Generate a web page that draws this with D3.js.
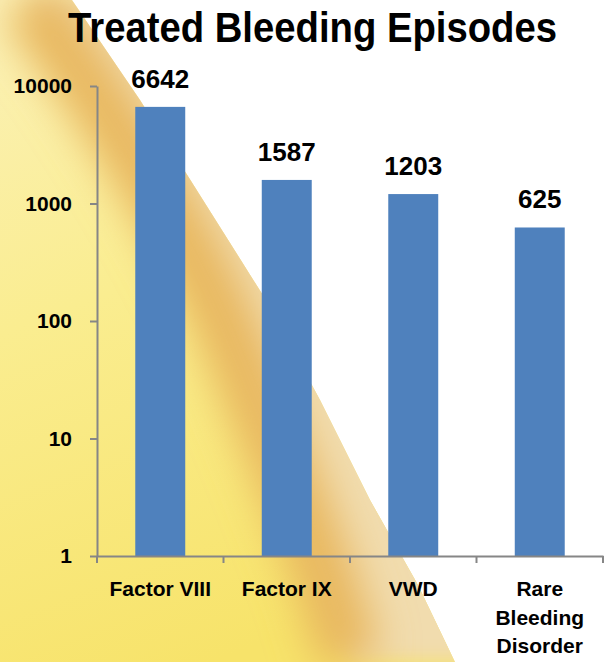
<!DOCTYPE html>
<html>
<head>
<meta charset="utf-8">
<script src="https://cdn.jsdelivr.net/npm/d3@7"></script>
<style>
  body { margin: 0; background: #fff; }
  svg { display: block; }
  text { font-family: "Liberation Sans", Arial, sans-serif; font-weight: bold; fill: #000; }
</style>
</head>
<body>
<div id="chart"></div>
<script>
// chart data
const title = "Treated Bleeding Episodes";
const categories = ["Factor VIII", "Factor IX", "VWD", "Rare Bleeding Disorder"];
const values = [6642, 1587, 1203, 625];
const yTicks = [1, 10, 100, 1000, 10000];

// decorative background sweep (slide template), not data
const sweepEdge = [[72, 0], [140, 100], [203, 200], [266, 300], [320, 400], [370, 500], [418, 585], [455, 662]];
const sweepGold = [[28, 0], [98, 100], [160, 200], [214, 300], [256, 400], [296, 500], [332, 600], [350, 662]];

function main() {
    const W = 609, H = 662;
    const margin = { top: 86, right: 6, bottom: 106, left: 97 };

    const svg = d3.select("#chart").append("svg")
        .attr("width", W).attr("height", H);

    // ---- background ----
    const defs = svg.append("defs");
    const base = defs.append("linearGradient").attr("id", "baseGrad")
        .attr("x1", 0).attr("y1", 0).attr("x2", 0.35).attr("y2", 1);
    base.append("stop").attr("offset", "0%").attr("stop-color", "#fbf1b8");
    base.append("stop").attr("offset", "45%").attr("stop-color", "#faed90");
    base.append("stop").attr("offset", "100%").attr("stop-color", "#f7e36a");

    defs.append("filter").attr("id", "blurBig")
        .attr("x", "-50%").attr("y", "-50%").attr("width", "200%").attr("height", "200%")
        .append("feGaussianBlur").attr("stdDeviation", 20);
    defs.append("filter").attr("id", "blurSmall")
        .attr("x", "-50%").attr("y", "-50%").attr("width", "200%").attr("height", "200%")
        .append("feGaussianBlur").attr("stdDeviation", 10);

    const smooth = d3.line().curve(d3.curveCatmullRom);
    const straight = d3.line();
    const regionPts = [[0, 0], ...sweepEdge, [0, H]];
    defs.append("clipPath").attr("id", "sweepClip")
        .append("path").attr("d", straight(regionPts) + "Z");

    const bg = svg.append("g").attr("clip-path", "url(#sweepClip)");
    bg.append("rect").attr("width", W).attr("height", H).attr("fill", "url(#baseGrad)");
    // beige zone between gold band and edge
    const beigePts = sweepGold.concat(sweepEdge.slice().reverse().map(p => [p[0] + 40, p[1]]));
    bg.append("path")
        .attr("d", straight(beigePts) + "Z")
        .attr("fill", "#f1dcae")
        .attr("filter", "url(#blurSmall)");
    bg.append("path")
        .attr("d", smooth(sweepGold))
        .attr("fill", "none")
        .attr("stroke", "#e8b75e")
        .attr("stroke-width", 62)
        .attr("filter", "url(#blurBig)");

    // ---- scales ----
    const x = d3.scaleBand()
        .domain(categories)
        .range([margin.left, W - margin.right])
        .paddingInner(0.605)
        .paddingOuter(0.3025);

    const y = d3.scaleLog()
        .domain([1, 10000])
        .range([H - margin.bottom, margin.top]);

    // ---- bars ----
    svg.append("g").selectAll("rect")
        .data(values)
        .join("rect")
        .attr("x", (d, i) => x(categories[i]))
        .attr("width", x.bandwidth())
        .attr("y", d => y(d))
        .attr("height", d => y(1) - y(d))
        .attr("fill", "#4f81bd");

    // value labels
    svg.append("g").selectAll("text")
        .data(values)
        .join("text")
        .attr("x", (d, i) => x(categories[i]) + x.bandwidth() / 2)
        .attr("y", d => y(d) - 19)
        .attr("text-anchor", "middle")
        .style("font-size", "26px")
        .text(d => d);

    // ---- y axis ----
    const yAxis = d3.axisLeft(y)
        .tickValues(yTicks)
        .tickFormat(d3.format("d"))
        .tickSize(7)
        .tickSizeOuter(0)
        .tickPadding(18);
    const gy = svg.append("g")
        .attr("transform", `translate(${margin.left},0)`)
        .call(yAxis);
    gy.selectAll(".domain, line").attr("stroke", "#868686").attr("stroke-width", 2);
    gy.selectAll("text")
        .style("font-size", "21px")
        .style("font-family", "'Liberation Sans', Arial, sans-serif")
        .style("font-weight", "bold")
        .attr("fill", "#000");

    // ---- x axis ----
    const y0 = y(1);
    const gx = svg.append("g")
        .attr("transform", `translate(0,${y0})`)
        .call(d3.axisBottom(x).tickSize(0).tickSizeOuter(0).tickFormat(""));
    gx.select(".domain").attr("stroke", "#868686").attr("stroke-width", 2);
    gx.selectAll(".tick").remove();

    const gap = (x.step() - x.bandwidth()) / 2;
    const bounds = categories.map(c => x(c) - gap).concat([x(categories[categories.length - 1]) + x.bandwidth() + gap]);
    gx.selectAll("line.sep")
        .data(bounds)
        .join("line")
        .attr("class", "sep")
        .attr("x1", d => d).attr("x2", d => d)
        .attr("y1", 0).attr("y2", 7)
        .attr("stroke", "#868686").attr("stroke-width", 2);

    // category labels with greedy wrapping
    const labels = svg.append("g").selectAll("text")
        .data(categories)
        .join("text")
        .attr("text-anchor", "middle")
        .style("font-size", "21px")
        .attr("transform", d => `translate(${x(d) + x.bandwidth() / 2},${y0 + 40})`);

    labels.each(function (d) {
        const t = d3.select(this);
        const words = d.split(" ");
        let lines = [];
        let cur = [];
        const probe = t.append("tspan");
        words.forEach(w => {
            const test = cur.concat([w]).join(" ");
            probe.text(test);
            if (probe.node().getComputedTextLength() > x.step() - 6 && cur.length) {
                lines.push(cur.join(" "));
                cur = [w];
            } else {
                cur.push(w);
            }
        });
        lines.push(cur.join(" "));
        probe.remove();
        lines.forEach((l, i) => {
            t.append("tspan").attr("x", 0).attr("y", i * 28.5).text(l);
        });
    });

    // ---- title ----
    svg.append("text")
        .attr("x", 68)
        .attr("y", 42)
        .attr("textLength", 489)
        .attr("lengthAdjust", "spacingAndGlyphs")
        .style("font-family", "'Liberation Sans Narrow', 'Liberation Sans', Arial, sans-serif")
        .style("font-size", "42px")
        .text(title);
}

main();
</script>
</body>
</html>
